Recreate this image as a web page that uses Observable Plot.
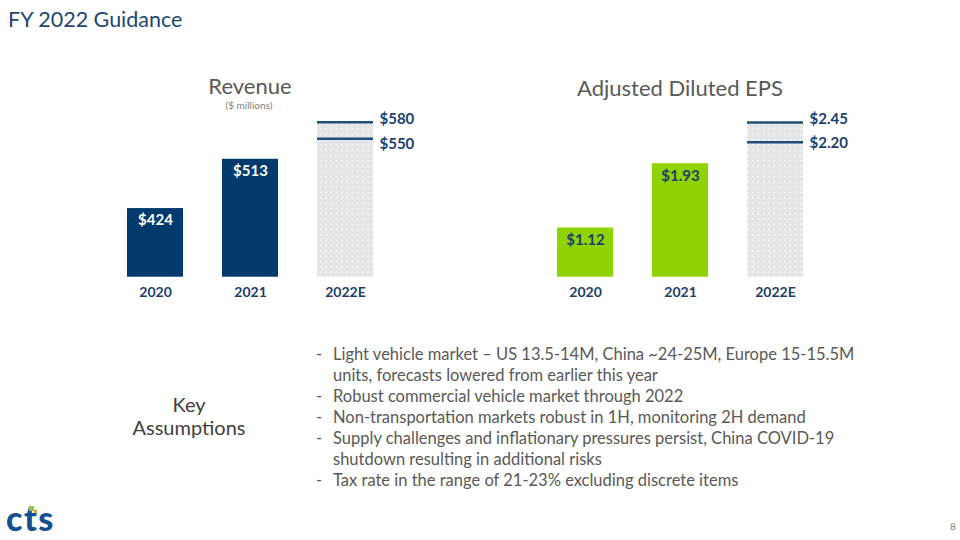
<!DOCTYPE html>
<html><head><meta charset="utf-8">
<script src="https://cdn.jsdelivr.net/npm/d3@7"></script>
<script src="https://cdn.jsdelivr.net/npm/@observablehq/plot@0.6"></script>
<style>
body{margin:0;width:960px;height:540px;position:relative;background:#fff;font-family:Lato,"Open Sans",sans-serif;overflow:hidden}
.abs{position:absolute;white-space:nowrap}
.title{left:8px;top:6px;font-size:21.5px;line-height:26px;color:#1d4774}
.ct{font-size:22px;line-height:21px;color:#595959;transform:translateX(-50%)}
.sub{font-size:10px;line-height:11px;color:#7f7f7f;transform:translateX(-50%)}
.key{font-size:20px;color:#404040;text-align:center;line-height:23px;transform:translateX(-50%)}
.bul{left:316px;top:343.5px;font-size:16.5px;line-height:21px;color:#595959}
.bul div{position:relative;padding-left:17px}
.bul div::before{content:"-";position:absolute;left:0}
.pg{left:950px;top:520px;font-size:10px;color:#7f7f7f}
.logo{left:6px;top:501px;font-size:34px;line-height:34px;font-weight:900;color:#13508f;letter-spacing:1.5px}
</style></head><body>
<div class="abs title">FY 2022 Guidance</div>
<div class="abs ct" style="left:250px;top:74.5px">Revenue</div>
<div class="abs sub" style="left:249px;top:99.5px">($ millions)</div>
<div class="abs ct" style="left:680px;top:76.5px">Adjusted Diluted EPS</div>
<div id="rev" class="abs" style="left:0;top:100px"></div>
<div id="eps" class="abs" style="left:480px;top:100px"></div>
<div class="abs key" style="left:189px;top:393px">Key<br>Assumptions</div>
<div class="abs bul" id="bullets"></div>
<div class="abs logo">cts</div>
<div class="abs" style="left:29px;top:506px;width:5px;height:5px;background:#8dc63f"></div>
<div class="abs" style="left:34px;top:510px;width:3px;height:3px;background:#f7941d"></div>
<div class="abs pg">8</div>
<script>
// ---- data ----
const actualYears = ["2020", "2021"];
const estimateYear = "2022E";
const allYears = ["2020", "2021", "2022E"];
const revenueValues = [424, 513];
const revenueRange = [550, 580];
const epsValues = [1.12, 1.93];
const epsRange = [2.20, 2.45];
const assumptions = [
  "Light vehicle market \u2013 US 13.5-14M, China ~24-25M, Europe 15-15.5M<br>units, forecasts lowered from earlier this year",
  "Robust commercial vehicle market through 2022",
  "Non-transportation markets robust in 1H, monitoring 2H demand",
  "Supply challenges and inflationary pressures persist, China COVID-19<br>shutdown resulting in additional risks",
  "Tax rate in the range of 21-23% excluding discrete items"
];

document.getElementById("bullets").innerHTML = assumptions.map(t => `<div>${t}</div>`).join("");

function chart({id, values, range, base, fmt, fill, labelFill, xRange}) {
  const actual = actualYears.map((y, i) => ({year: y, value: values[i]}));
  const est = [{year: estimateYear, value: d3.max(range)}];
  const rng = range.map((v, i) => ({year: estimateYear, value: v, hi: i === range.length - 1}));
  const navy = "#1c3f6e";
  const svg = Plot.plot({
    width: 480, height: 210,
    marginTop: id === "rev" ? 21.7 : 22, marginBottom: 33.3,
    style: {background: "transparent", fontFamily: "Lato, sans-serif", fontSize: "14px", fontWeight: "bold", color: navy},
    x: {domain: allYears, range: xRange, padding: 0.414, tickSize: 0, tickPadding: 10, label: null},
    y: {domain: [base, d3.max(range)], axis: null},
    marks: [
      Plot.barY(est, {x: "year", y1: () => base, y2: "value", fill: `url(#dots-${id})`}),
      Plot.barY(actual, {x: "year", y1: () => base, y2: "value", fill}),
      Plot.tickY(rng, {x: "year", y: "value", stroke: "#1f4e79", strokeWidth: 2.5}),
      Plot.text(actual, {x: "year", y: "value", text: d => fmt(d.value), dy: 12, fill: labelFill, fontSize: 15, fontWeight: "bold"}),
      Plot.text(rng.filter(d => d.hi), {x: "year", y: "value", text: d => fmt(d.value), dx: 34, dy: -3, textAnchor: "start", fill: navy, fontSize: 15, fontWeight: "bold"}),
      Plot.text(rng.filter(d => !d.hi), {x: "year", y: "value", text: d => fmt(d.value), dx: 34, dy: id === "rev" ? 5 : 1, textAnchor: "start", fill: navy, fontSize: 15, fontWeight: "bold"})
    ]
  });
  const defs = d3.select(svg).insert("defs", ":first-child");
  const p = defs.append("pattern").attr("id", `dots-${id}`).attr("width", 5.3).attr("height", 5.3).attr("patternUnits", "userSpaceOnUse");
  p.append("rect").attr("width", 5.3).attr("height", 5.3).attr("fill", "#e3e5e9");
  p.append("circle").attr("cx", 2.65).attr("cy", 2.65).attr("r", 0.8).attr("fill", "#ffffff");
  document.getElementById(id).appendChild(svg);
}

chart({id: "rev", values: revenueValues, range: revenueRange, base: 300,
  fmt: v => "$" + v, fill: "#023a6e", labelFill: "#ffffff", xRange: [86.5, 412.5]});
chart({id: "eps", values: epsValues, range: epsRange, base: 0.5,
  fmt: v => "$" + v.toFixed(2), fill: "#8fd400", labelFill: "#1c3f6e", xRange: [36.4, 363.3]});
</script>
</body></html>
